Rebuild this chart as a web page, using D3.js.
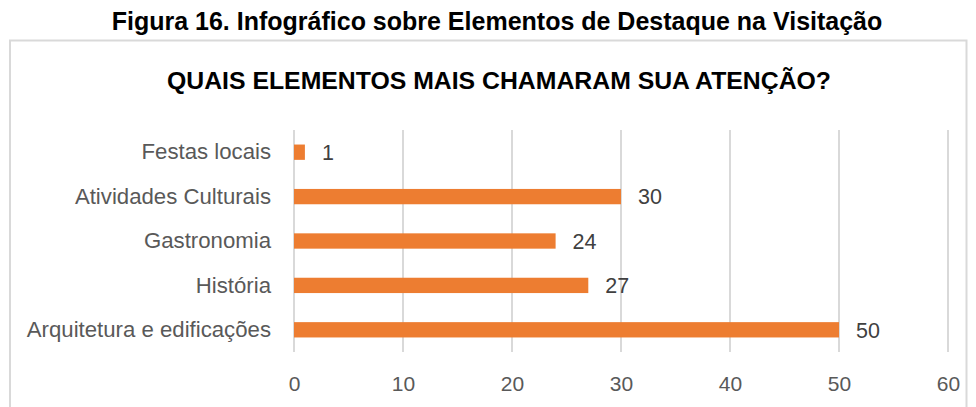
<!DOCTYPE html>
<html>
<head>
<meta charset="utf-8">
<script src="https://cdn.jsdelivr.net/npm/d3@7"></script>
<style>
  body { margin: 0; background: #fff; }
  svg { display: block; font-family: "Liberation Sans", Arial, sans-serif; }
</style>
</head>
<body>
<svg width="976" height="407"></svg>
<script>
var categories = ["Festas locais", "Atividades Culturais", "Gastronomia", "História", "Arquitetura e edificações"];
var values = [1, 30, 24, 27, 50];
var xTicks = [0, 10, 20, 30, 40, 50, 60];

var svg = d3.select("svg"),
    margin = {top: 130, right: 28, bottom: 55, left: 294},
    width = +svg.attr("width") - margin.left - margin.right,
    height = +svg.attr("height") - margin.top - margin.bottom;

var data = categories.map(function(c, i) { return {name: c, value: values[i]}; });

// figure caption + chart frame
svg.append("text")
    .attr("x", 497).attr("y", 30)
    .attr("text-anchor", "middle")
    .style("font-weight", "bold")
    .style("font-size", "25px")
    .style("fill", "#000")
    .text("Figura 16. Infográfico sobre Elementos de Destaque na Visitação");

svg.append("path")
    .attr("d", "M10,407 V40.5 H966.5 V407")
    .style("fill", "none")
    .style("stroke", "#d9d9d9")
    .style("stroke-width", "2px");

svg.append("text")
    .attr("x", 499).attr("y", 89)
    .attr("text-anchor", "middle")
    .style("font-weight", "bold")
    .style("font-size", "24.8px")
    .style("fill", "#000")
    .text("QUAIS ELEMENTOS MAIS CHAMARAM SUA ATENÇÃO?");

var x = d3.scaleLinear().domain([0, 60]).range([0, 948 - margin.left]),
    y = d3.scaleBand().domain(categories).range([0, 222]).paddingInner(0.655).paddingOuter(0.3275);

var g = svg.append("g")
    .attr("transform", "translate(" + margin.left + "," + margin.top + ")");

// gridlines
g.selectAll(".grid")
  .data(xTicks)
  .enter().append("line")
    .attr("class", "grid")
    .attr("x1", function(d) { return x(d); })
    .attr("x2", function(d) { return x(d); })
    .attr("y1", 0)
    .attr("y2", 222)
    .style("stroke", "#d9d9d9")
    .style("stroke-width", "2px");

var xAxis = g.append("g")
    .attr("transform", "translate(0,222)")
    .call(d3.axisBottom(x).tickValues(xTicks).tickSize(0).tickPadding(24));
xAxis.select(".domain").remove();
xAxis.selectAll("text")
    .style("font-family", "Liberation Sans, Arial, sans-serif")
    .style("font-size", "21px")
    .style("fill", "#595959");

var yAxis = g.append("g")
    .call(d3.axisLeft(y).tickSize(0).tickPadding(23));
yAxis.select(".domain").remove();
yAxis.selectAll("text")
    .style("font-family", "Liberation Sans, Arial, sans-serif")
    .style("font-size", "22.2px")
    .style("fill", "#595959");

g.selectAll(".bar")
  .data(data)
  .enter().append("rect")
    .attr("class", "bar")
    .attr("x", x(0))
    .attr("y", function(d) { return y(d.name); })
    .attr("width", function(d) { return x(d.value) - x(0); })
    .attr("height", y.bandwidth())
    .style("fill", "#ed7d31");

g.selectAll(".label")
  .data(data)
  .enter().append("text")
    .attr("class", "label")
    .attr("x", function(d) { return x(d.value) + 17; })
    .attr("y", function(d) { return y(d.name) + y.bandwidth() / 2; })
    .attr("dy", "0.36em")
    .style("font-size", "21.5px")
    .style("fill", "#404040")
    .text(function(d) { return d.value; });
</script>
</body>
</html>
